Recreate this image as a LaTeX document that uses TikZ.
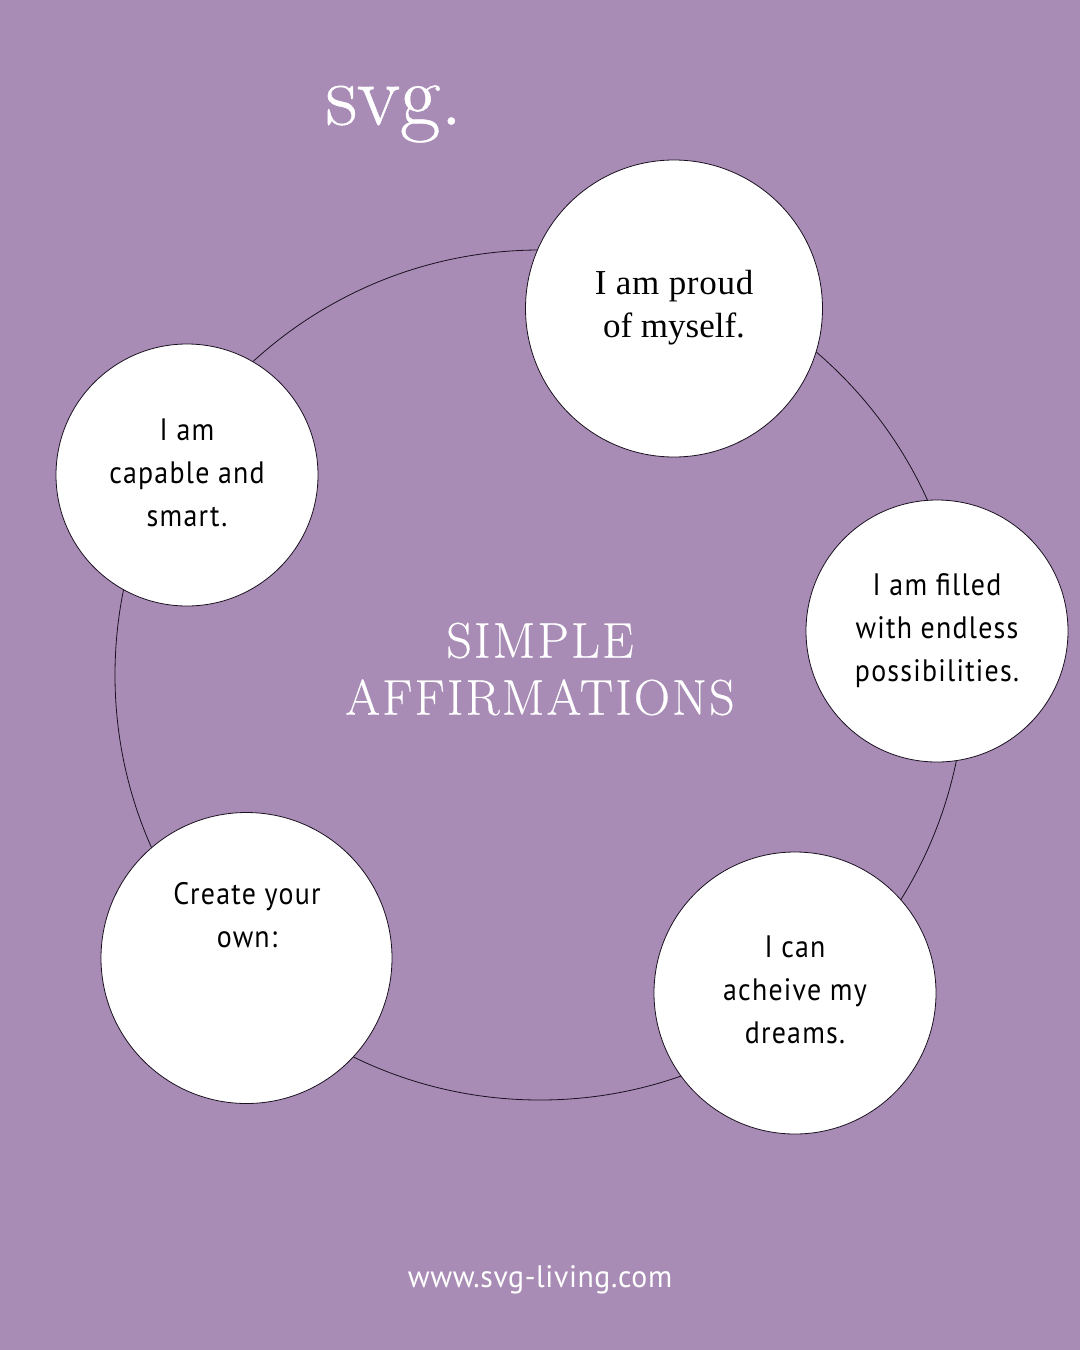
\documentclass[tikz,border=0pt]{standalone}
\usepackage{fontspec}
\setmainfont{Latin Modern Roman}
\newfontfamily\bodyf[LetterSpace=4,FakeStretch=0.9]{PT Sans}
\newfontfamily\urlf[LetterSpace=2,FakeStretch=0.96]{PT Sans}
\newfontfamily\serf[LetterSpace=2]{Liberation Serif}
\newfontfamily\serg{Liberation Serif}
\newfontfamily\titlef[LetterSpace=4.5,FakeBold=0.4]{Latin Modern Roman}
\newfontfamily\logof[FakeBold=0.5]{Latin Modern Roman}
\definecolor{bgpurple}{HTML}{A88CB5}
\definecolor{ringline}{HTML}{1A1020}
\tikzset{
  x=1pt,y=-1pt,
  bubble/.style={circle,draw=ringline,line width=0.8pt,fill=white,inner sep=0pt,minimum size=#1},
  ringshape/.style={circle,draw=ringline,line width=0.8pt,inner sep=0pt,minimum size=850pt},
  lab/.style={align=center,text=black,font=\bodyf\fontsize{31}{43}\selectfont,inner sep=0pt},
  serlab/.style={align=center,text=black,font=\serf\fontsize{35}{43}\selectfont,inner sep=0pt},
  title/.style={align=center,text=white,font=\titlef\fontsize{50}{57}\selectfont,inner sep=0pt},
  logo/.style={text=white,font=\logof\fontsize{88}{88}\selectfont,inner sep=0pt},
  url/.style={text=white,font=\urlf\fontsize{31}{36}\selectfont,inner sep=0pt}
}
\begin{document}
\begin{tikzpicture}
\path[fill=bgpurple] (0,0) rectangle (1080,1350);
\useasboundingbox (0,0) rectangle (1080,1350);
\node[ringshape] (ring) at (540,675) {};
\node[bubble=297pt] (proud) at (674,308.5) {};
\node[bubble=262pt] (filled) at (937,631) {};
\node[bubble=282pt] (dreams) at (795,993) {};
\node[bubble=291pt] (own) at (246.5,958) {};
\node[bubble=262pt] (capable) at (187,475) {};
\node[serlab] (tproud) at (674,308) {I am proud\\{\serg of myself.}};
\node[lab] (tfilled) at (937,631) {I am filled\\with endless\\possibilities.};
\node[lab] (tdreams) at (795,990) {I can\\acheive my\\dreams.};
\node[lab] (town) at (247,915) {Create your\\own:};
\node[lab] (tcapable) at (187,473) {I am\\capable and\\smart.};
\node[title] (ttitle) at (540,669) {SIMPLE\\AFFIRMATIONS};
\node[logo] (tlogo) at (394,114) {svg.};
\node[url] (turl) at (540,1280) {www.svg-living.com};
\end{tikzpicture}
\end{document}
